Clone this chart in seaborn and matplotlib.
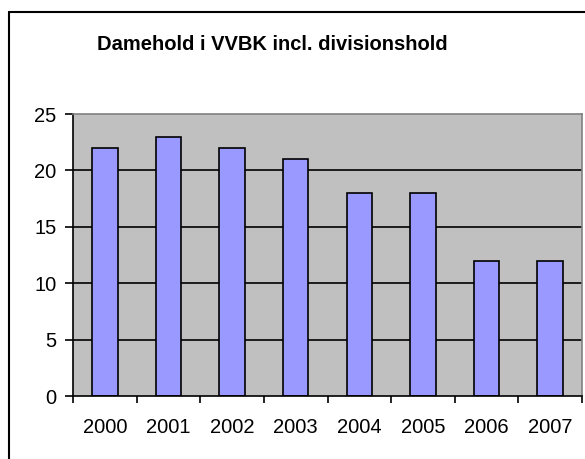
import matplotlib
matplotlib.use("Agg")
import matplotlib.pyplot as plt
import seaborn as sns
import pandas as pd
from matplotlib.lines import Line2D

years = ["2000", "2001", "2002", "2003", "2004", "2005", "2006", "2007"]
teams = [22, 23, 22, 21, 18, 18, 12, 12]
title = "Damehold i VVBK incl. divisionshold"
yticks = [0, 5, 10, 15, 20, 25]

sns.set_theme(style="white")
plt.rcParams['font.family'] = ['Liberation Sans', 'DejaVu Sans']

df = pd.DataFrame({"year": years, "teams": teams})

fig = plt.figure(figsize=(5.85, 4.59), dpi=100)
ax = fig.add_axes([73/585, 1-396/459, (582-73)/585, (396-114)/459])
ax.set_facecolor("#C0C0C0")

sns.barplot(data=df, x="year", y="teams", ax=ax, color="#9999FF",
            width=0.4, edgecolor="black", linewidth=1.2, saturation=1, zorder=3)

ax.set_xlim(-0.5, len(years) - 0.5)
ax.set_ylim(0, 25)
ax.set_yticks(yticks)
ax.set_yticklabels([str(t) for t in yticks], fontsize=14.5)
for t in yticks[1:-1]:
    ax.axhline(t, color="black", lw=1.2, zorder=1)
ax.set_xlabel("")
ax.set_ylabel("")
ax.set_xticks(range(len(years)))
ax.set_xticklabels(years, fontsize=14.5)
ax.tick_params(axis="x", which="major", bottom=True, length=0, pad=16, colors="black")
ax.set_xticks([i - 0.5 for i in range(len(years) + 1)], minor=True)
ax.tick_params(axis="x", which="minor", bottom=True, length=5, width=1.2,
               color="black", direction="out")
ax.tick_params(axis="y", which="major", left=True, length=6, width=1.2, color="black",
               direction="out", pad=6, colors="black")
for lab in ax.get_xticklabels() + ax.get_yticklabels():
    lab.set_color("black")

ax.spines["left"].set_color("black")
ax.spines["bottom"].set_color("black")
ax.spines["left"].set_linewidth(1.2)
ax.spines["bottom"].set_linewidth(1.2)
ax.spines["top"].set_color("#808080")
ax.spines["right"].set_color("#808080")
ax.spines["top"].set_linewidth(1.2)
ax.spines["right"].set_linewidth(1.2)
for s in ax.spines.values():
    s.set_visible(True)
    s.set_zorder(4)

fig.text(272/585, 1-45/459, title, ha="center", va="center",
         fontsize=14.5, fontweight="bold", color="black")

# outer chart border (cropped at right and bottom)
fig.add_artist(Line2D([9/585, 9/585], [0, 1-12/459], transform=fig.transFigure,
                      color="black", lw=1.5))
fig.add_artist(Line2D([9/585, 1], [1-12/459, 1-12/459], transform=fig.transFigure,
                      color="black", lw=1.5))

fig.savefig("out.png", dpi=100)
